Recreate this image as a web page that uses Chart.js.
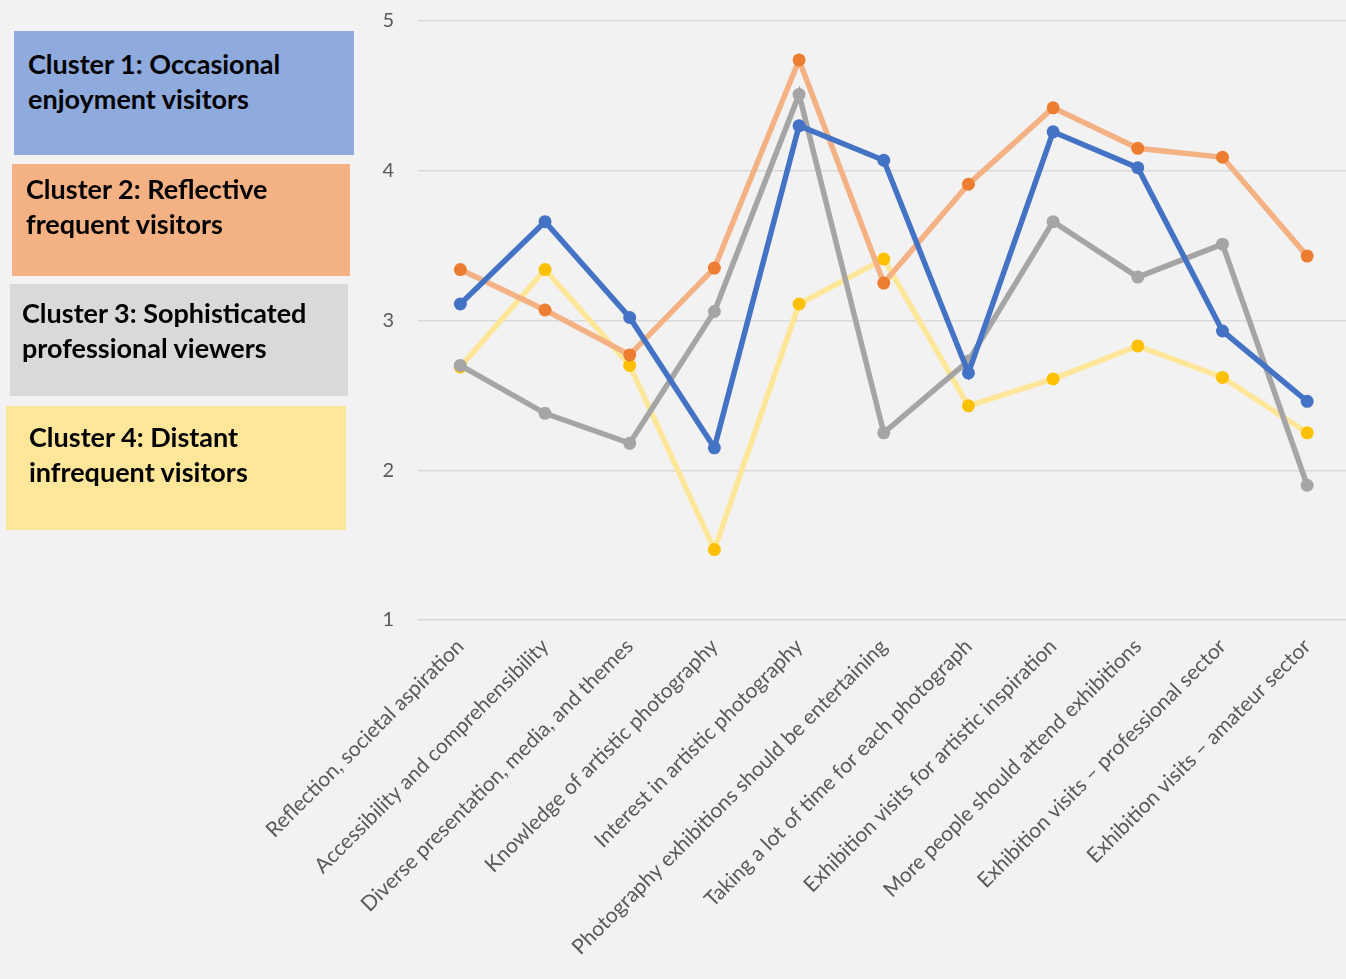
<!DOCTYPE html>
<html>
<head>
<meta charset="utf-8">
<script src="https://cdn.jsdelivr.net/npm/chart.js@4/dist/chart.umd.min.js"></script>
<style>
  html, body { margin: 0; padding: 0; background: #f2f2f2; overflow: hidden; }
  #wrap { position: relative; width: 1346px; height: 979px; overflow: hidden; }
  #chart { position: absolute; left: 0; top: -15px; }
  .box {
    position: absolute;
    font-family: Lato, "Liberation Sans", sans-serif;
    font-weight: bold;
    font-size: 27px;
    line-height: 35px;
    color: #000;
    box-sizing: border-box;
  }
</style>
</head>
<body>
<div id="wrap">
  <canvas id="chart" width="1356" height="994"></canvas>
  <div class="box" style="left:14px;top:31px;width:340px;height:124px;background:#8faadc;padding:15px 0 0 14px;">Cluster 1: Occasional<br>enjoyment visitors</div>
  <div class="box" style="left:12px;top:164px;width:338px;height:112px;background:#f4b183;padding:7px 0 0 14px;">Cluster 2: Reflective<br>frequent visitors</div>
  <div class="box" style="left:10px;top:284px;width:338px;height:112px;background:#d9d9d9;padding:11px 0 0 12px;">Cluster 3: Sophisticated<br>professional viewers</div>
  <div class="box" style="left:6px;top:406px;width:340px;height:124px;background:#ffe699;padding:13px 0 0 23px;">Cluster 4: Distant<br>infrequent visitors</div>
</div>
<script>
var categories = [
    'Reflection, societal aspiration',
    'Accessibility and comprehensibility',
    'Diverse presentation, media, and themes',
    'Knowledge of artistic photography',
    'Interest in artistic photography',
    'Photography exhibitions should be entertaining',
    'Taking a lot of time for each photograph',
    'Exhibition visits for artistic inspiration',
    'More people should attend exhibitions',
    'Exhibition visits \u2013 professional sector',
    'Exhibition visits \u2013 amateur sector'
];

var cluster1 = [3.11, 3.66, 3.02, 2.15, 4.30, 4.07, 2.65, 4.26, 4.02, 2.93, 2.46];
var cluster2 = [3.34, 3.07, 2.77, 3.35, 4.74, 3.25, 3.91, 4.42, 4.15, 4.09, 3.43];
var cluster3 = [2.70, 2.38, 2.18, 3.06, 4.51, 2.25, 2.73, 3.66, 3.29, 3.51, 1.90];
var cluster4 = [2.69, 3.34, 2.70, 1.47, 3.11, 3.41, 2.43, 2.61, 2.83, 2.62, 2.25];

var yTicks = [1, 2, 3, 4, 5];

function makeSet(label, data, lineColor, pointColor) {
    return {
        label: label,
        data: data,
        borderColor: lineColor,
        backgroundColor: pointColor,
        pointBackgroundColor: pointColor,
        pointBorderColor: pointColor,
        pointRadius: 6.5,
        pointBorderWidth: 0,
        borderWidth: 5.5,
        tension: 0
    };
}

const ctx = document.getElementById('chart').getContext('2d');
const clusterChart = new Chart(ctx, {
    type: 'line',
    data: {
        labels: categories,
        datasets: [
            makeSet('Cluster 1', cluster1, '#4472c4', '#4472c4'),
            makeSet('Cluster 2', cluster2, '#f4b183', '#ed7d31'),
            makeSet('Cluster 3', cluster3, '#a5a5a5', '#a5a5a5'),
            makeSet('Cluster 4', cluster4, '#ffe699', '#ffc000')
        ]
    },
    options: {
        responsive: false,
        animation: false,
        layout: { padding: { left: 363, top: 0, right: 0, bottom: 0 } },
        plugins: {
            legend: { display: false },
            tooltip: { enabled: false }
        },
        scales: {
            x: {
                offset: true,
                grid: { display: false },
                border: { display: false },
                ticks: {
                    autoSkip: false,
                    minRotation: 45,
                    maxRotation: 45,
                    padding: 6,
                    color: '#595959',
                    font: { family: 'Lato', size: 21 }
                },
                afterFit: function(scale) { scale.height = 359; }
            },
            y: {
                min: 1,
                max: 5,
                afterBuildTicks: function(scale) {
                    scale.ticks = yTicks.map(function(v) { return { value: v }; });
                },
                grid: { color: '#d9d9d9', lineWidth: 1.5, drawTicks: false },
                border: { display: false },
                ticks: {
                    color: '#595959',
                    padding: 24,
                    font: { family: 'Lato', size: 20 }
                },
                afterFit: function(scale) { scale.width = 55; }
            }
        }
    }
});
</script>
</body>
</html>
